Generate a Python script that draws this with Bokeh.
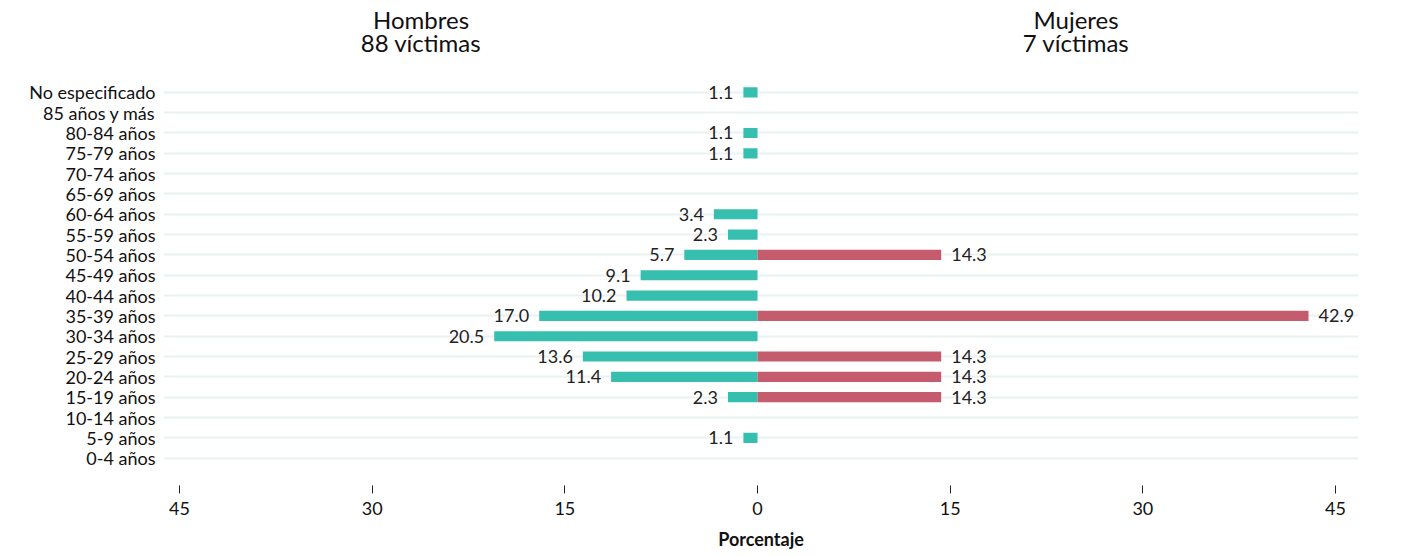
from bokeh.plotting import figure
from bokeh.models import ColumnDataSource, FixedTicker, Label
from bokeh.core.properties import value
from bokeh.embed import file_html
from bokeh.resources import INLINE

categories = ["0-4 años", "5-9 años", "10-14 años", "15-19 años", "20-24 años",
              "25-29 años", "30-34 años", "35-39 años", "40-44 años", "45-49 años",
              "50-54 años", "55-59 años", "60-64 años", "65-69 años", "70-74 años",
              "75-79 años", "80-84 años", "85 años y más", "No especificado"]
hombres = [0, 1.1, 0, 2.3, 11.4, 13.6, 20.5, 17.0, 10.2, 9.1,
           5.7, 2.3, 3.4, 0, 0, 1.1, 1.1, 0, 1.1]
mujeres = [0, 0, 0, 14.3, 14.3, 14.3, 0, 42.9, 0, 0,
           14.3, 0, 0, 0, 0, 0, 0, 0, 0]
x_ticks = [-45, -30, -15, 0, 15, 30, 45]
titulo_h = ["Hombres", "88 víctimas"]
titulo_m = ["Mujeres", "7 víctimas"]

FONT = "Lato"
TEAL = "#36BFAE"
PINK = "#C45C6E"

idx = list(range(len(categories)))

p = figure(width=1385, height=556, output_backend="svg", toolbar_location=None,
           x_range=(-46.25, 46.79), y_range=(-1.346, 22.52),
           min_border_left=163, min_border_right=27, min_border_top=0,
           min_border_bottom=71)
p.title = None
p.outline_line_color = None
p.background_fill_color = "white"
p.border_fill_color = "white"

# bars
src_h = ColumnDataSource(dict(y=idx, right=[-v for v in hombres]))
src_m = ColumnDataSource(dict(y=idx, right=mujeres))
p.hbar(y="y", left=0, right="right", height=0.5, source=src_h,
       fill_color=TEAL, line_color=None)
p.hbar(y="y", left=0, right="right", height=0.5, source=src_m,
       fill_color=PINK, line_color=None)

# value labels
hy = [i for i, v in zip(idx, hombres) if v > 0]
hv = [v for v in hombres if v > 0]
src_lh = ColumnDataSource(dict(x=[-v for v in hv], y=hy, t=[f"{v:.1f}" for v in hv]))
p.text(x="x", y="y", text="t", source=src_lh, text_align="right",
       text_baseline="middle", x_offset=-10, text_font=value(FONT),
       text_font_size="18px", text_color="#222222")
my = [i for i, v in zip(idx, mujeres) if v > 0]
mv = [v for v in mujeres if v > 0]
src_lm = ColumnDataSource(dict(x=mv, y=my, t=[f"{v:.1f}" for v in mv]))
p.text(x="x", y="y", text="t", source=src_lm, text_align="left",
       text_baseline="middle", x_offset=10, text_font=value(FONT),
       text_font_size="18px", text_color="#222222")

# panel titles
for xs, lines in ((-26.2, titulo_h), (24.8, titulo_m)):
    for yy, t in zip((21.59, 20.45), lines):
        p.add_layout(Label(x=xs, y=yy, text=t, text_align="center",
                           text_baseline="middle", text_font=FONT,
                           text_font_size="24px", text_color="#111111"))

# y axis
p.yaxis.ticker = FixedTicker(ticks=idx)
p.yaxis.major_label_overrides = {i: c for i, c in zip(idx, categories)}
p.yaxis.axis_line_color = None
p.yaxis.major_tick_line_color = None
p.yaxis.minor_tick_line_color = None
p.yaxis.major_label_standoff = 2
p.yaxis.major_label_text_font = FONT
p.yaxis.major_label_text_font_size = "18px"
p.yaxis.major_label_text_color = "#111111"

# x axis
p.xaxis.ticker = FixedTicker(ticks=x_ticks)
p.xaxis.major_label_overrides = {t: str(abs(t)) for t in x_ticks}
p.xaxis.axis_line_color = None
p.xaxis.major_tick_line_color = "#222222"
p.xaxis.major_tick_in = 0
p.xaxis.major_tick_out = 8
p.xaxis.minor_tick_line_color = None
p.xaxis.major_label_standoff = 8
p.xaxis.major_label_text_font = FONT
p.xaxis.major_label_text_font_size = "18px"
p.xaxis.major_label_text_color = "#111111"
p.xaxis.axis_label = "Porcentaje"
p.xaxis.axis_label_text_font = FONT
p.xaxis.axis_label_text_font_style = "bold"
p.xaxis.axis_label_text_font_size = "18px"
p.xaxis.axis_label_text_color = "#111111"
p.xaxis.axis_label_standoff = 10

# grid
p.xgrid.grid_line_color = None
p.ygrid.ticker = FixedTicker(ticks=idx)
p.ygrid.grid_line_color = "#EAF1F2"
p.ygrid.grid_line_width = 2

open("out.html", "w").write(file_html(p, INLINE))
